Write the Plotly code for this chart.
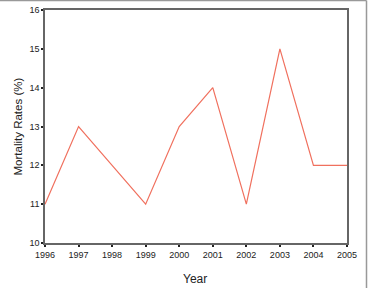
import plotly.graph_objects as go

years = [1996, 1997, 1998, 1999, 2000, 2001, 2002, 2003, 2004, 2005]
mortality = [11, 13, 12, 11, 13, 14, 11, 15, 12, 12]

fig = go.Figure()
fig.add_trace(go.Scatter(x=years, y=mortality, mode="lines",
                         line=dict(color="#f0705e", width=1.2)))

axis_common = dict(showline=True, linecolor="#666666", linewidth=1.5, mirror=True,
                   showgrid=False, zeroline=False, ticks="outside", ticklen=2,
                   tickwidth=2, tickcolor="#222222", automargin=False,
                   tickfont=dict(size=9, color="#222222", family="Liberation Sans"))

fig.update_xaxes(range=[1996, 2005], tickvals=years, ticktext=[str(y) for y in years],
                 **axis_common)
fig.update_yaxes(range=[10, 16], tickvals=list(range(10, 17)), **axis_common)

PW, PH = 302, 233
fig.add_annotation(text="Year", xref="paper", yref="paper",
                   x=(195 - 45) / PW, y=-(279 - 243) / PH, showarrow=False,
                   xanchor="center", yanchor="middle",
                   font=dict(size=12, color="#222222", family="Liberation Sans"))
fig.add_annotation(text="Mortality Rates (%)", xref="paper", yref="paper",
                   x=-(45 - 17) / PW, y=0.5, showarrow=False, textangle=-90,
                   xanchor="center", yanchor="middle",
                   font=dict(size=11.5, color="#222222", family="Liberation Sans"))

# outer figure border
fig.add_shape(type="line", xref="paper", yref="paper",
              x0=-0.2, x1=(366.5 - 45) / PW, y0=(243 - 0.5) / PH, y1=(243 - 0.5) / PH,
              line=dict(color="#999999", width=1.5))
fig.add_shape(type="line", xref="paper", yref="paper",
              x0=(366.5 - 45) / PW, x1=(366.5 - 45) / PW, y0=(243 - 0.5) / PH, y1=-0.3,
              line=dict(color="#999999", width=1.5))

fig.update_layout(width=370, height=288, margin=dict(l=45, r=23, t=10, b=45),
                  paper_bgcolor="white", plot_bgcolor="white", showlegend=False,
                  font=dict(family="Liberation Sans"))

fig.write_html("out.html")
